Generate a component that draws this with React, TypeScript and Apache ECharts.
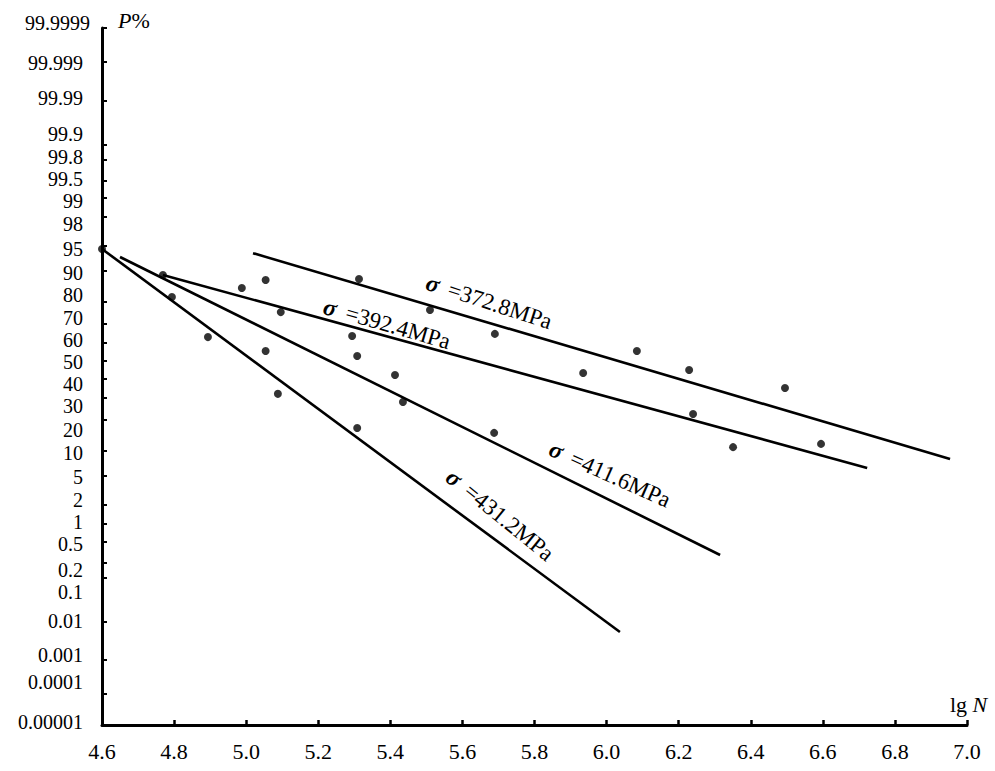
import React, { useEffect, useRef } from "react";
import * as echarts from "echarts";

// ---------- data ----------
const yTickLabels = [
  "99.9999", "99.999", "99.99", "99.9", "99.8", "99.5", "99", "98", "95", "90",
  "80", "70", "60", "50", "40", "30", "20", "10", "5", "2", "1", "0.5", "0.2",
  "0.1", "0.01", "0.001", "0.0001", "0.00001",
];

const stressLabels = ["=372.8MPa", "=392.4MPa", "=411.6MPa", "=431.2MPa"];
const lineStartLgN = [5.019, 4.769, 4.65, 4.6];
const lineStartP = [93.8, 89.0, 93.1, 94.5];
const lineEndLgN = [6.953, 6.723, 6.315, 6.037];
const lineEndP = [8.06, 6.31, 0.279, 0.0054];

const pointLgN = [
  4.6, 4.769, 4.794, 4.894, 4.988, 5.054, 5.096, 5.054, 5.088, 5.294, 5.308,
  5.313, 5.308, 5.413, 5.435, 5.51, 5.69, 5.688, 5.935, 6.084, 6.229, 6.24,
  6.351, 6.495, 6.595,
];
const pointP = [
  94.5, 89.0, 81.9, 63.3, 85.1, 87.6, 75.7, 55.6, 31.9, 63.9, 52.8,
  87.9, 16.9, 42.0, 27.9, 76.6, 65.0, 15.2, 43.1, 55.6, 44.8, 22.4,
  10.9, 34.9, 11.8,
];

// ---------- layout / style ----------
const W = 995;
const H = 771;
const GRID = { left: 102, right: 28, top: 28, bottom: 46 };
const FONT = "Liberation Serif";
const FS = 22;
const FS_Y = 20;
// vertical nudges (px) of crowded y labels, as in the original figure
const labelNudgePx = [
  0, 1, -2, -10.5, -2.3, -1.5, 3, 7, 3, 2, -7, -6, -3, 1, 5.5, 8.5, 10, 2, 1, -5,
  -2, 3, 7.5, 15, 0, -5, -12, -3,
];
const annot = [
  { x: 489, y: 302, rot: 18 },
  { x: 387, y: 324, rot: 16 },
  { x: 610, y: 474, rot: 24 },
  { x: 500, y: 515, rot: 39 },
];

// inverse standard normal CDF (Acklam)
function normInv(p: number): number {
  const a = [-3.969683028665376e1, 2.209460984245205e2, -2.759285104469687e2, 1.38357751867269e2, -3.066479806614716e1, 2.506628277459239];
  const b = [-5.447609879822406e1, 1.615858368580409e2, -1.556989798598866e2, 6.680131188771972e1, -1.328068155288572e1];
  const c = [-7.784894002430293e-3, -3.223964580411365e-1, -2.400758277161838, -2.549671010229343, 4.374664141464968, 2.938163982698783];
  const d = [7.784695709041462e-3, 3.224671290700398e-1, 2.445134137142996, 3.754408661907416];
  const pl = 0.02425;
  if (p < pl) {
    const q = Math.sqrt(-2 * Math.log(p));
    return (((((c[0] * q + c[1]) * q + c[2]) * q + c[3]) * q + c[4]) * q + c[5]) /
      ((((d[0] * q + d[1]) * q + d[2]) * q + d[3]) * q + 1);
  }
  if (p <= 1 - pl) {
    const q = p - 0.5;
    const r = q * q;
    return ((((((a[0] * r + a[1]) * r + a[2]) * r + a[3]) * r + a[4]) * r + a[5]) * q) /
      (((((b[0] * r + b[1]) * r + b[2]) * r + b[3]) * r + b[4]) * r + 1);
  }
  const q = Math.sqrt(-2 * Math.log(1 - p));
  return -(((((c[0] * q + c[1]) * q + c[2]) * q + c[3]) * q + c[4]) * q + c[5]) /
    ((((d[0] * q + d[1]) * q + d[2]) * q + d[3]) * q + 1);
}
const zOf = (pct: number) => normInv(pct / 100);

export default function App() {
  const ref = useRef<HTMLDivElement>(null);

  useEffect(() => {
    if (!ref.current) return;
    const chart = echarts.init(ref.current, null, { renderer: "svg" });

    const tickZ = yTickLabels.map((s) => zOf(parseFloat(s)));
    const yMin = Math.min(...tickZ);
    const yMax = Math.max(...tickZ);
    const pxPerZ = (H - GRID.top - GRID.bottom) / (yMax - yMin);
    const labelZ = tickZ.map((z, i) => z - labelNudgePx[i] / pxPerZ);

    const labelIndex = (v: number) => {
      let best = 0;
      let bd = Infinity;
      labelZ.forEach((z, i) => {
        const dd = Math.abs(z - v);
        if (dd < bd) { bd = dd; best = i; }
      });
      return best;
    };

    const lineSeries = stressLabels.map((name, i) => ({
      name,
      type: "line",
      data: [
        [lineStartLgN[i], zOf(lineStartP[i])],
        [lineEndLgN[i], zOf(lineEndP[i])],
      ],
      symbol: "none",
      lineStyle: { color: "#000", width: 2.6 },
      silent: true,
      z: 2,
    }));

    const option: any = {
      animation: false,
      backgroundColor: "#fff",
      grid: { ...GRID },
      xAxis: {
        type: "value",
        min: 4.6,
        max: 7.0,
        interval: 0.2,
        name: "{a|lg }{b|N}",
        nameLocation: "end",
        nameGap: -17,
        nameTextStyle: {
          align: "left",
          verticalAlign: "bottom",
          padding: [0, 0, 10, 0],
          rich: {
            a: { fontFamily: FONT, fontSize: FS, color: "#000" },
            b: { fontFamily: FONT, fontSize: FS, color: "#000", fontStyle: "italic" },
          },
        },
        axisLine: { onZero: false, lineStyle: { color: "#000", width: 3 } },
        axisTick: { inside: true, length: 5, lineStyle: { color: "#000", width: 2.5 } },
        splitLine: { show: false },
        axisLabel: {
          color: "#000",
          fontFamily: FONT,
          fontSize: FS,
          margin: 15,
          formatter: (v: number) => v.toFixed(1),
        },
      },
      yAxis: {
        type: "value",
        min: yMin,
        max: yMax,
        name: "{a|P}{b|%}",
        nameLocation: "end",
        nameGap: 8,
        nameTextStyle: {
          align: "left",
          verticalAlign: "middle",
          padding: [0, 0, 0, 16],
          rich: {
            a: { fontFamily: FONT, fontSize: FS, color: "#000", fontStyle: "italic" },
            b: { fontFamily: FONT, fontSize: FS, color: "#000" },
          },
        },
        axisLine: { onZero: false, lineStyle: { color: "#000", width: 3 } },
        axisTick: {
          inside: true,
          length: 5,
          customValues: tickZ,
          lineStyle: { color: "#000", width: 2 },
        },
        splitLine: { show: false },
        axisLabel: {
          customValues: labelZ,
          color: "#000",
          fontFamily: FONT,
          fontSize: FS_Y,
          margin: 19,
          formatter: (v: number) => {
            const i = labelIndex(v);
            return i === 0 ? `{top|${yTickLabels[i]}}` : yTickLabels[i];
          },
          rich: {
            top: {
              fontFamily: FONT,
              fontSize: FS_Y,
              color: "#000",
              padding: [0, -7, 11, 0],
            },
          },
        },
      },
      series: [
        ...lineSeries,
        {
          name: "points",
          type: "scatter",
          data: pointLgN.map((x, i) => [x, zOf(pointP[i])]),
          symbol: "circle",
          symbolSize: 8,
          itemStyle: { color: "#000" },
          z: 3,
        },
      ],
      graphic: annot.map((a, i) => ({
        type: "text",
        x: a.x,
        y: a.y,
        rotation: (-a.rot * Math.PI) / 180,
        style: {
          text: `{s|σ}{t|${stressLabels[i]}}`,
          align: "center",
          verticalAlign: "middle",
          rich: {
            s: {
              fontFamily: FONT,
              fontSize: 24,
              fontWeight: "bold",
              fontStyle: "italic",
              fill: "#000",
              padding: [0, 10, 0, 0],
            },
            t: { fontFamily: FONT, fontSize: 23, fill: "#000" },
          },
        },
        z: 10,
      })),
    };

    chart.setOption(option);
    return () => chart.dispose();
  }, []);

  return (
    <div
      ref={ref}
      style={{ position: "absolute", left: 0, top: 0, width: W, height: H, background: "#fff" }}
    />
  );
}
